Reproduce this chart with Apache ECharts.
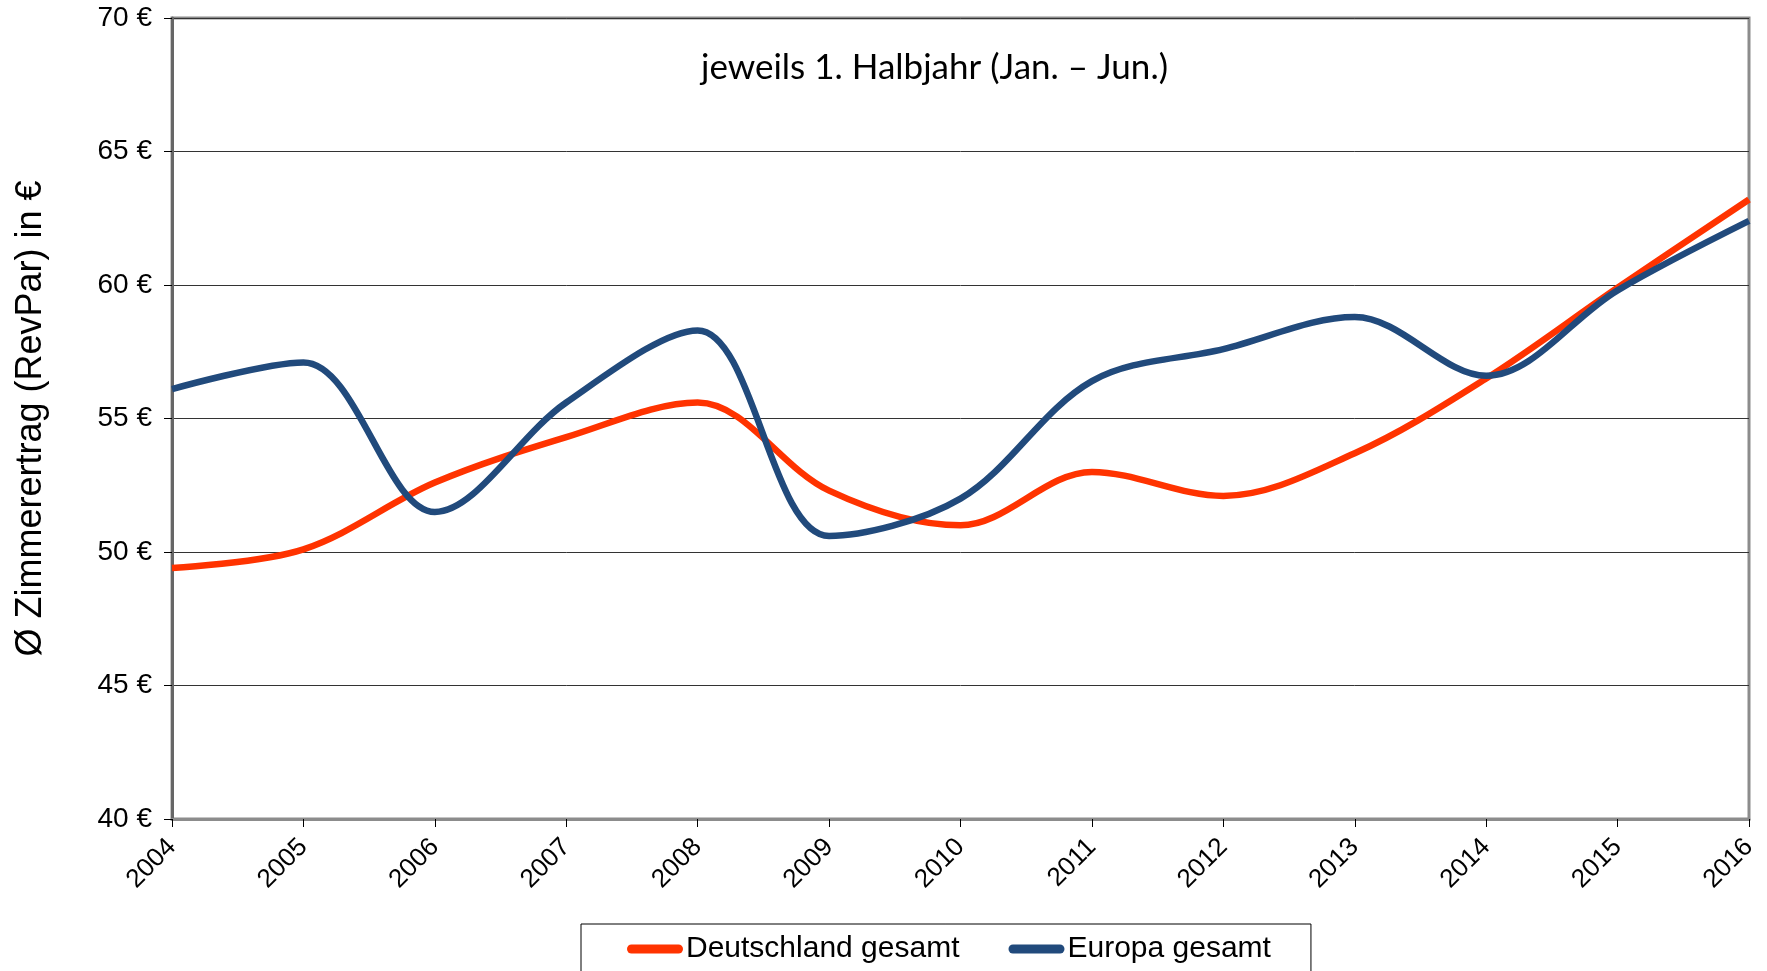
<!DOCTYPE html>
<html>
<head>
<meta charset="utf-8">
<script src="https://cdn.jsdelivr.net/npm/echarts@6/dist/echarts.min.js"></script>
<style>
  html, body { margin: 0; padding: 0; background: #fff; }
  #chart { width: 1767px; height: 971px; }
</style>
</head>
<body>
<div id="chart"></div>
<script>
// Halbjahreswerte (Jan. – Jun.), RevPar in €
const years = ['2004', '2005', '2006', '2007', '2008', '2009', '2010', '2011', '2012', '2013', '2014', '2015', '2016'];
const deutschland = [49.4, 50.1, 52.6, 54.3, 55.6, 52.3, 51.0, 53.0, 52.1, 53.7, 56.5, 59.9, 63.2];
const europa = [56.1, 57.1, 51.5, 55.6, 58.3, 50.6, 52.0, 56.4, 57.6, 58.8, 56.6, 59.8, 62.4];
const seriesNames = ['Deutschland gesamt', 'Europa gesamt'];
const subtitle = 'jeweils 1. Halbjahr (Jan. – Jun.)';
const axisTitle = 'Ø Zimmerertrag (RevPar) in €';

const chart = echarts.init(document.getElementById('chart'), null, { renderer: 'canvas' });
const FONT = 'Liberation Sans, Arial, sans-serif';
const SMOOTH = 0.34;

chart.setOption({
  animation: false,
  backgroundColor: '#ffffff',
  grid: {
    left: 172, right: 18, top: 18, bottom: 152,
    show: true, borderColor: '#8c8c8c', borderWidth: 3
  },
  graphic: [{
    type: 'text',
    left: 701, top: 50,
    style: { text: subtitle, font: '35px Lato, "Open Sans", sans-serif', fill: '#000' }
  }],
  legend: {
    left: 581, top: 924,
    padding: [10, 40, 60, 46],
    itemGap: 49,
    itemWidth: 56, itemHeight: 9,
    borderColor: '#000', borderWidth: 1,
    icon: 'path://M4.5,0 H51.5 A4.5,4.5 0 0 1 51.5,9 H4.5 A4.5,4.5 0 0 1 4.5,0 Z',
    textStyle: { fontFamily: FONT, fontSize: 30, color: '#000', padding: [0, 0, 0, -2] },
    data: seriesNames
  },
  xAxis: {
    type: 'category',
    data: years,
    boundaryGap: false,
    axisLine: { lineStyle: { color: '#8c8c8c', width: 3 } },
    axisTick: { show: true, length: 8, lineStyle: { color: '#000', width: 1 } },
    axisLabel: { rotate: 45, margin: 24, fontFamily: FONT, fontSize: 26, color: '#000' },
    splitLine: { show: false }
  },
  yAxis: {
    type: 'value',
    min: 40, max: 70, interval: 5,
    name: axisTitle,
    nameLocation: 'middle',
    nameRotate: 90,
    nameGap: 123,
    nameTextStyle: { fontFamily: FONT, fontSize: 36, color: '#000' },
    axisLine: { show: true, lineStyle: { color: '#666', width: 3 } },
    axisTick: { show: true, length: 8, lineStyle: { color: '#000', width: 1 } },
    axisLabel: { formatter: '{value} €', margin: 20, fontFamily: FONT, fontSize: 28, color: '#000' },
    splitLine: { show: true, lineStyle: { color: '#333', width: 1 } }
  },
  series: [
    {
      name: seriesNames[0],
      type: 'line',
      data: deutschland,
      smooth: SMOOTH,
      showSymbol: false,
      symbol: 'none',
      lineStyle: { color: '#ff3300', width: 6.5 },
      itemStyle: { color: '#ff3300' },
      z: 3
    },
    {
      name: seriesNames[1],
      type: 'line',
      data: europa,
      smooth: SMOOTH,
      showSymbol: false,
      symbol: 'none',
      lineStyle: { color: '#214a7c', width: 6.5 },
      itemStyle: { color: '#214a7c' },
      z: 4
    }
  ]
});
</script>
</body>
</html>
